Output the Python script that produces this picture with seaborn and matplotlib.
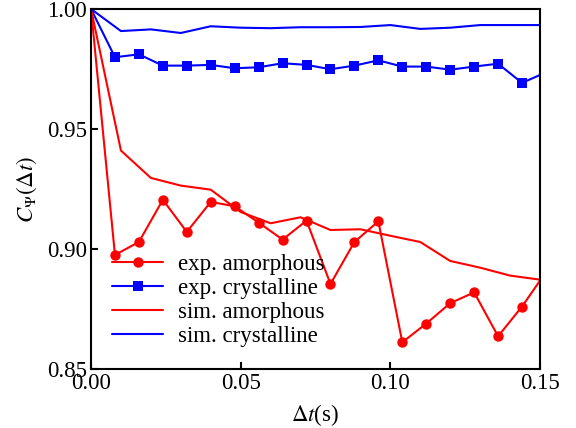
import numpy as np
import pandas as pd
import matplotlib
matplotlib.use("Agg")
import matplotlib.pyplot as plt
import seaborn as sns

# experimental data, sampled every 8 ms (last point lies just past the axis edge)
exp_t = [0.0, 0.008, 0.016, 0.024, 0.032, 0.040, 0.048, 0.056, 0.064, 0.072, 0.080,
         0.088, 0.096, 0.104, 0.112, 0.120, 0.128, 0.136, 0.144, 0.152]
exp_amorphous = [1.0, 0.8975, 0.9029, 0.9205, 0.9071, 0.9196, 0.9178, 0.9110, 0.9039,
                 0.9118, 0.8854, 0.9029, 0.9115, 0.8611, 0.8689, 0.8774, 0.8819,
                 0.8636, 0.8760, 0.8904]
exp_crystalline = [1.0, 0.9799, 0.9811, 0.9764, 0.9764, 0.9767, 0.9753, 0.9757, 0.9774,
                   0.9767, 0.9749, 0.9764, 0.9786, 0.9760, 0.9760, 0.9747, 0.9760,
                   0.9772, 0.9692, 0.9736]

# simulation data, sampled every 10 ms
sim_t = [0.0, 0.01, 0.02, 0.03, 0.04, 0.05, 0.06, 0.07, 0.08, 0.09, 0.10, 0.11, 0.12,
         0.13, 0.14, 0.15]
sim_amorphous = [1.0, 0.9410, 0.9296, 0.9264, 0.9247, 0.9154, 0.9107, 0.9132, 0.9079,
                 0.9082, 0.9055, 0.9029, 0.8950, 0.8922, 0.8889, 0.8872]
sim_crystalline = [1.0, 0.9908, 0.9915, 0.9900, 0.9928, 0.9922, 0.9920, 0.9924, 0.9924,
                   0.9925, 0.9933, 0.9917, 0.9922, 0.9933, 0.9933, 0.9933]

sns.set_style("ticks")
plt.rcParams["font.family"] = ["Liberation Serif", "DejaVu Serif"]
plt.rcParams["mathtext.fontset"] = "stix"
plt.rcParams["text.color"] = "black"
plt.rcParams["axes.labelcolor"] = "black"
plt.rcParams["xtick.color"] = "black"
plt.rcParams["ytick.color"] = "black"
plt.rcParams["axes.edgecolor"] = "black"

fig = plt.figure(figsize=(5.76, 4.28), dpi=100)
ax = fig.add_axes([0.158, 0.138, 0.7795, 0.841])

lw = 1.5
sns.lineplot(x=exp_t, y=exp_amorphous, ax=ax, color="#ff0000", lw=lw, marker="o",
             markersize=7.5, markeredgewidth=0, label="exp. amorphous")
sns.lineplot(x=exp_t, y=exp_crystalline, ax=ax, color="#0000ff", lw=lw, marker="s",
             markersize=7, markeredgewidth=0, label="exp. crystalline")
sns.lineplot(x=sim_t, y=sim_amorphous, ax=ax, color="#ff0000", lw=lw,
             label="sim. amorphous")
sns.lineplot(x=sim_t, y=sim_crystalline, ax=ax, color="#0000ff", lw=lw,
             label="sim. crystalline")

# the 8-ms markers start at t=0 only as a line vertex, hide that marker
for line in ax.get_lines()[:2]:
    line.set_markevery(list(range(1, len(exp_t))))

ax.set_xlim(0, 0.15)
ax.set_ylim(0.85, 1.0)
ax.set_xticks([0.0, 0.05, 0.10, 0.15])
ax.set_yticks([0.85, 0.90, 0.95, 1.00])
ax.set_xticklabels(["0.00", "0.05", "0.10", "0.15"])
ax.set_yticklabels(["0.85", "0.90", "0.95", "1.00"])
ax.tick_params(direction="in", length=5, width=1.5, labelsize=16.5, pad=3)
for s in ax.spines.values():
    s.set_linewidth(1.5)
    s.set_visible(True)

ax.set_xlabel(r"$\Delta t$(s)", fontsize=16.5, labelpad=6)
ax.set_ylabel(r"$C_\Psi(\Delta t)$", fontsize=16.5, labelpad=6)

ax.legend(loc="lower left", frameon=False, fontsize=16.5, handlelength=2.2,
          handletextpad=0.65, labelspacing=0.12, borderaxespad=0.0,
          bbox_to_anchor=(0.027, 0.036))

fig.savefig("out.png", dpi=100)
